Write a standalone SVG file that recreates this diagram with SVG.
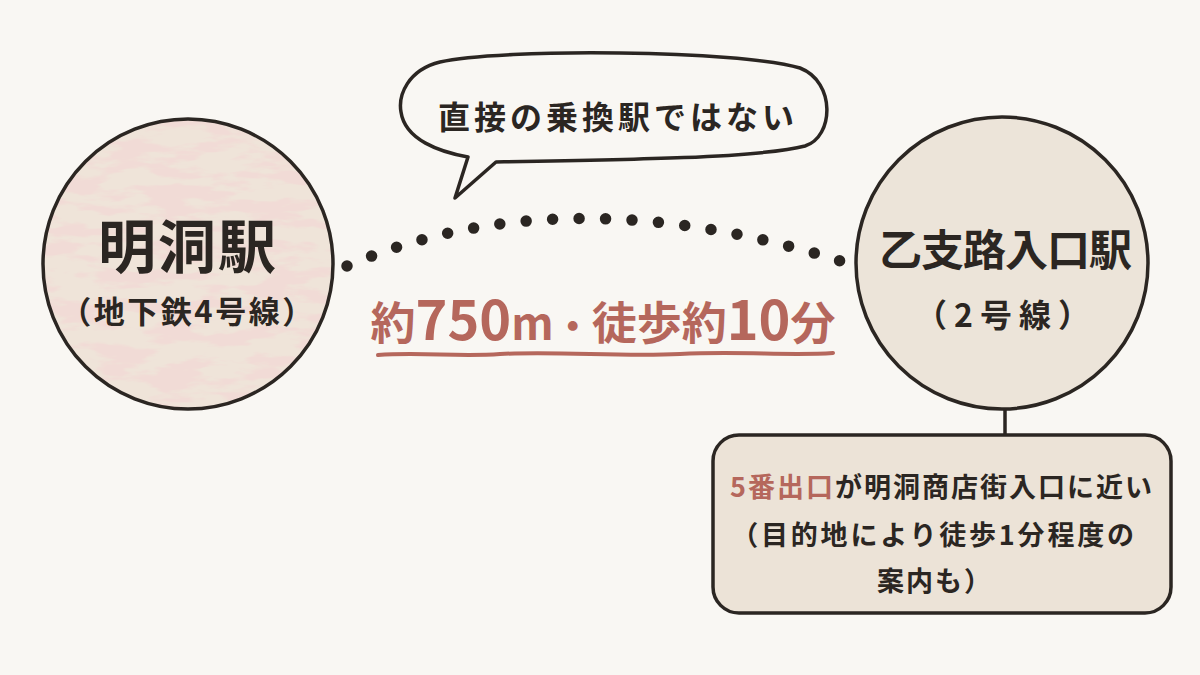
<svg xmlns="http://www.w3.org/2000/svg" width="1200" height="675" viewBox="0 0 1200 675">
  <style>
    .ink { fill: none; stroke: #2b2622; stroke-width: 3.5; stroke-linejoin: round; stroke-linecap: round; }
    .t { font-family: "Noto Sans CJK JP", "Noto Sans", sans-serif; fill: #2b2622; text-anchor: middle; }
    .b { font-weight: 700; }
    .accent { fill: #b5675c; }
  </style>
  <defs>
    <filter id="mottle" x="0" y="0" width="100%" height="100%">
      <feTurbulence type="fractalNoise" baseFrequency="0.02 0.07" numOctaves="4" seed="7" result="n"/>
      <feColorMatrix in="n" type="matrix" values="0 0 0 0 0.88  0 0 0 0 0.71  0 0 0 0 0.67  7 0 0 0 -3.2"/>
    </filter>
    <clipPath id="leftClip"><circle cx="188" cy="264" r="145"/></clipPath>
  </defs>

  <rect width="1200" height="675" fill="#f9f7f3"/>

  <g id="connectors">
    <path d="M 347 266 Q 565 172 850 264" fill="none" stroke="#2b2622" stroke-width="11.5" stroke-linecap="round" stroke-dasharray="0 26.5"/>
    <line class="ink" x1="1005" y1="408" x2="1005" y2="435"/>
  </g>

  <g id="node-myeongdong">
    <circle cx="188" cy="264" r="145" fill="#efe4d9"/>
    <rect x="40" y="115" width="300" height="300" fill="#fff" filter="url(#mottle)" clip-path="url(#leftClip)"/>
    <circle class="ink" cx="188" cy="264" r="145"/>
    <text class="t b" x="188" y="268" font-size="58" letter-spacing="2">明洞駅</text>
    <text class="t b" x="188" y="323" font-size="31" letter-spacing="2.5">（地下鉄4号線）</text>
  </g>

  <g id="node-euljiro">
    <circle cx="1002" cy="263" r="146" fill="#ece4d9"/>
    <circle class="ink" cx="1002" cy="263" r="146"/>
    <text class="t b" x="1005" y="266" font-size="43" letter-spacing="-1">乙支路入口駅</text>
    <text class="t b" x="1006" y="327" font-size="32" letter-spacing="7">（2号線）</text>
  </g>

  <g id="bubble">
    <path class="ink" style="fill:#f9f7f3" d="M 468 157 L 455 198 L 496 162 C 620 160 760 158 805 146 C 834 137 836 82 800 68 C 740 50 500 48 440 62 C 408 70 398 95 401 112 C 405 140 440 152 468 157 Z"/>
    <text class="t b" x="618" y="129" font-size="32" letter-spacing="4">直接の乗換駅ではない</text>
  </g>

  <g id="label">
    <text class="t b accent" x="603" y="340" font-size="45"><tspan>約</tspan><tspan font-size="54">750</tspan><tspan font-size="44">m</tspan><tspan font-size="38">・</tspan><tspan>徒歩約</tspan><tspan font-size="54">10</tspan><tspan>分</tspan></text>
    <path d="M 378 355 C 420 352 460 357 500 354 C 560 351 620 357 680 354 C 740 351 790 356 833 353" fill="none" stroke="#b5675c" stroke-width="4" stroke-linecap="round"/>
  </g>

  <g id="exit-note">
    <rect class="ink" style="fill:#ece3d7" x="713" y="435" width="458" height="178" rx="26"/>
    <text class="t b" x="942" y="497" font-size="27" letter-spacing="2"><tspan class="accent">5番出口</tspan>が明洞商店街入口に近い</text>
    <text class="t b" x="934" y="545" font-size="27" letter-spacing="2.8">（目的地により徒歩1分程度の</text>
    <text class="t b" x="935" y="591" font-size="27" letter-spacing="2">案内も）</text>
  </g>
</svg>
